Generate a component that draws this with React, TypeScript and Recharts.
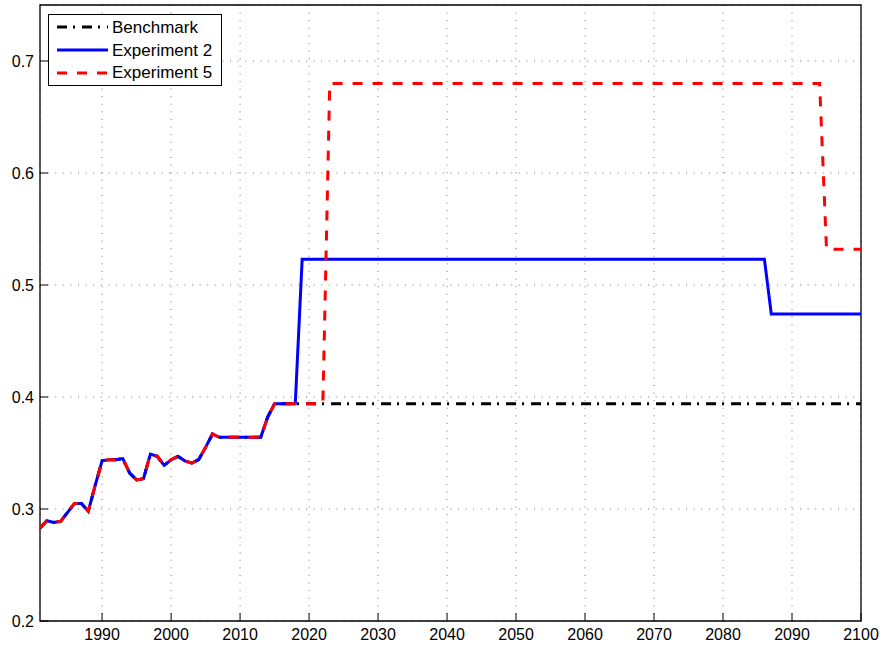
import { LineChart, Line, XAxis, YAxis, CartesianGrid, Legend, ReferenceArea } from "recharts";

// shared historical path (all three runs coincide up to 2015)
const histYears = [
  1981, 1982, 1983, 1984, 1985, 1986, 1987, 1988, 1989, 1990, 1991, 1992,
  1993, 1994, 1995, 1996, 1997, 1998, 1999, 2000, 2001, 2002, 2003, 2004,
  2005, 2006, 2007, 2013, 2014, 2015,
];
const histValues = [
  0.283, 0.2895, 0.288, 0.289, 0.297, 0.305, 0.305, 0.298, 0.321, 0.343,
  0.344, 0.344, 0.345, 0.332, 0.326, 0.327, 0.349, 0.347, 0.339, 0.344,
  0.347, 0.343, 0.341, 0.344, 0.355, 0.367, 0.364, 0.364, 0.382, 0.394,
];

const benchYears = [2100];
const benchValues = [0.394];
const exp2Years = [2018, 2019, 2086, 2087, 2100];
const exp2Values = [0.394, 0.523, 0.523, 0.474, 0.474];
const exp5Years = [2022, 2023, 2094, 2095, 2100];
const exp5Values = [0.394, 0.68, 0.68, 0.532, 0.532];

const xTicks = [1990, 2000, 2010, 2020, 2030, 2040, 2050, 2060, 2070, 2080, 2090, 2100];
const yTicks = [0.2, 0.3, 0.4, 0.5, 0.6, 0.7];
const xDomain = [1981, 2100];
const yDomain = [0.2, 0.75];

const build = (years: number[], values: number[]) => [
  ...histYears.map((year, i) => ({ year, v: histValues[i] })),
  ...years.map((year, i) => ({ year, v: values[i] })),
];

const benchmark = build(benchYears, benchValues);
const exp2 = build(exp2Years, exp2Values);
const exp5 = build(exp5Years, exp5Values);

const FONT = "'Liberation Sans', Arial, Helvetica, sans-serif";
const TICK = 8;

const series = [
  { name: "Benchmark", color: "#000000", dash: "10 6 2 7" },
  { name: "Experiment 2", color: "#0000ff", dash: undefined },
  { name: "Experiment 5", color: "#ff0000", dash: "10 10" },
];

const BottomTick = (p: any) => (
  <g>
    <line x1={p.x} y1={p.y} x2={p.x} y2={p.y - TICK} stroke="#000" />
    <text x={p.x} y={p.y} dy={19} textAnchor="middle" fontSize={16} fontFamily={FONT} fill="#000">
      {p.payload.value}
    </text>
  </g>
);

const TopTick = (p: any) => (
  <line x1={p.x} y1={p.y} x2={p.x} y2={p.y + TICK} stroke="#000" />
);

const LeftTick = (p: any) => (
  <g>
    <line x1={p.x} y1={p.y} x2={p.x + TICK} y2={p.y} stroke="#000" />
    <text x={p.x - 6} y={p.y} dy={5.5} textAnchor="end" fontSize={16} fontFamily={FONT} fill="#000">
      {p.payload.value.toFixed(1)}
    </text>
  </g>
);

const RightTick = (p: any) => (
  <line x1={p.x} y1={p.y} x2={p.x - TICK} y2={p.y} stroke="#000" />
);

const LegendBox = () => (
  <div
    style={{
      border: "1px solid #000",
      background: "#fff",
      width: 174,
      height: 72,
      boxSizing: "border-box",
      paddingTop: 1,
      fontFamily: FONT,
      fontSize: 17,
    }}
  >
    {series.map((s) => (
      <div key={s.name} style={{ display: "flex", alignItems: "center", height: 22.7, whiteSpace: "nowrap" }}>
        <svg width={63} height={10} style={{ flex: "none" }}>
          <line x1={8} y1={5} x2={59} y2={5} stroke={s.color} strokeWidth={3} strokeDasharray={s.dash} />
        </svg>
        <span style={{ lineHeight: "19px" }}>{s.name}</span>
      </div>
    ))}
  </div>
);

export default function App() {
  return (
    <div style={{ position: "absolute", left: 0, top: 0 }}>
      <LineChart width={883} height={650} margin={{ top: 5, right: 22, bottom: 0, left: 0 }}>
        <CartesianGrid stroke="#777" strokeDasharray="1 6.6" />
        <XAxis
          dataKey="year"
          type="number"
          domain={xDomain}
          ticks={xTicks}
          interval={0}
          allowDataOverflow
          height={29}
          tickSize={0}
          tickMargin={0}
          tick={BottomTick}
          axisLine={false}
        />
        <XAxis
          xAxisId="top"
          orientation="top"
          dataKey="year"
          type="number"
          domain={xDomain}
          ticks={xTicks}
          interval={0}
          allowDataOverflow
          height={0}
          tickSize={0}
          tickMargin={0}
          tick={TopTick}
          axisLine={false}
        />
        <YAxis
          type="number"
          domain={yDomain}
          ticks={yTicks}
          interval={0}
          allowDataOverflow
          width={40}
          tickSize={0}
          tickMargin={0}
          tick={LeftTick}
          axisLine={false}
        />
        <YAxis
          yAxisId="right"
          orientation="right"
          type="number"
          domain={yDomain}
          ticks={yTicks}
          interval={0}
          allowDataOverflow
          width={0}
          tickSize={0}
          tickMargin={0}
          tick={RightTick}
          axisLine={false}
        />
        <Line
          data={benchmark}
          dataKey="v"
          name="Benchmark"
          stroke="#000000"
          strokeWidth={3}
          strokeDasharray="10 6 2 7"
          dot={false}
          isAnimationActive={false}
        />
        <Line
          data={exp2}
          dataKey="v"
          name="Experiment 2"
          stroke="#0000ff"
          strokeWidth={3}
          dot={false}
          isAnimationActive={false}
        />
        <Line
          data={exp5}
          dataKey="v"
          name="Experiment 5"
          stroke="#ff0000"
          strokeWidth={3}
          strokeDasharray="10 10"
          dot={false}
          isAnimationActive={false}
        />
        <ReferenceArea
          x1={xDomain[0]}
          x2={xDomain[1]}
          y1={yDomain[0]}
          y2={yDomain[1]}
          fill="none"
          fillOpacity={0}
          stroke="#000"
          strokeWidth={1.3}
          ifOverflow="visible"
        />
        <Legend
          layout="vertical"
          align="center"
          verticalAlign="middle"
          content={LegendBox}
          wrapperStyle={{ left: 48, top: 14, width: 174, height: 72 }}
        />
      </LineChart>
    </div>
  );
}
